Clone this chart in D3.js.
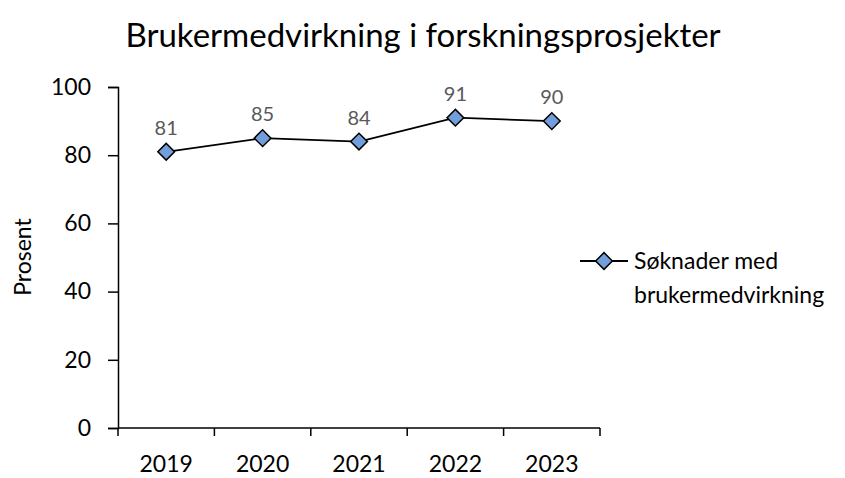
<html lang="en">
<head>
<meta charset="UTF-8">
<title>Brukermedvirkning</title>
<style>
  body { margin: 0; background: #fff; }
  text { font-family: Lato, "Open Sans", sans-serif; }
</style>
</head>
<body>
<script src="https://d3js.org/d3.v7.min.js"></script>
<script>
const years = ['2019', '2020', '2021', '2022', '2023']
const values = [81, 85, 84, 91, 90]
const yTicks = [0, 20, 40, 60, 80, 100]
const seriesName = ['Søknader med', 'brukermedvirkning']

const m = { width: 845, height: 478 }
const plot = { left: 118, right: 600, top: 87, bottom: 428 }

const svg = d3.select('body').append('svg')
  .attr('width', m.width)
  .attr('height', m.height)

const x = d3.scaleBand()
  .domain(years)
  .range([plot.left, plot.right])

const y = d3.scaleLinear()
  .domain([0, 100])
  .range([plot.bottom, plot.top])

// title
svg.append('text')
  .attr('x', 423)
  .attr('y', 47)
  .attr('text-anchor', 'middle')
  .attr('font-size', 33)
  .attr('fill', '#000')
  .text('Brukermedvirkning i forskningsprosjekter')

// y axis
const yAxis = svg.append('g')
  .attr('transform', `translate(${plot.left},0)`)
  .call(d3.axisLeft(y).tickValues(yTicks).tickSize(10).tickPadding(17))
yAxis.select('.domain').attr('stroke', '#000').attr('stroke-width', 1.5)
yAxis.selectAll('.tick line').attr('stroke', '#000').attr('stroke-width', 1.5)
yAxis.selectAll('text').attr('font-size', 23).attr('fill', '#000')
  .style('font-family', 'Lato, sans-serif')

// x axis
const xTickPos = years.map(d => x(d)).concat([plot.right])
const xAxis = svg.append('g')
  .attr('transform', `translate(0,${plot.bottom})`)
xAxis.append('line')
  .attr('x1', plot.left).attr('x2', plot.right)
  .attr('stroke', '#000').attr('stroke-width', 1.5)
xAxis.selectAll('.xtick')
  .data(xTickPos)
  .enter()
  .append('line')
    .attr('x1', d => d).attr('x2', d => d)
    .attr('y1', 0).attr('y2', 8)
    .attr('stroke', '#000').attr('stroke-width', 1.5)
xAxis.selectAll('.xlabel')
  .data(years)
  .enter()
  .append('text')
    .attr('x', d => x(d) + x.bandwidth() / 2)
    .attr('y', 44)
    .attr('text-anchor', 'middle')
    .attr('font-size', 23)
    .attr('fill', '#000')
    .text(d => d)

// y label
svg.append('text')
  .attr('transform', 'translate(31,257) rotate(-90)')
  .attr('text-anchor', 'middle')
  .attr('font-size', 23)
  .attr('fill', '#000')
  .text('Prosent')

// line
const line = d3.line()
  .x((d, i) => x(years[i]) + x.bandwidth() / 2)
  .y(d => y(d))

svg.append('path')
  .datum(values)
  .attr('d', line)
  .attr('fill', 'none')
  .attr('stroke', '#000')
  .attr('stroke-width', 1.8)

const diamond = d3.symbol().type(d3.symbolSquare).size(140)

svg.selectAll('.marker')
  .data(values)
  .enter()
  .append('path')
    .attr('d', diamond)
    .attr('transform', (d, i) => `translate(${x(years[i]) + x.bandwidth() / 2},${y(d)}) rotate(45)`)
    .attr('fill', '#729fdc')
    .attr('stroke', '#000')
    .attr('stroke-width', 1.5)

svg.selectAll('.dlabel')
  .data(values)
  .enter()
  .append('text')
    .attr('x', (d, i) => x(years[i]) + x.bandwidth() / 2)
    .attr('y', d => y(d) - 17)
    .attr('text-anchor', 'middle')
    .attr('font-size', 20)
    .attr('fill', '#595959')
    .text(d => d)

// legend
const lg = svg.append('g').attr('transform', 'translate(580,261)')
lg.append('line')
  .attr('x1', 0).attr('x2', 48)
  .attr('stroke', '#000').attr('stroke-width', 1.8)
lg.append('path')
  .attr('d', diamond)
  .attr('transform', 'translate(24,0) rotate(45)')
  .attr('fill', '#729fdc')
  .attr('stroke', '#000')
  .attr('stroke-width', 1.5)
lg.selectAll('.ltext')
  .data(seriesName)
  .enter()
  .append('text')
    .attr('x', 54)
    .attr('y', (d, i) => 8 + i * 34)
    .attr('font-size', 23)
    .attr('fill', '#000')
    .text(d => d)
</script>
</body>
</html>
